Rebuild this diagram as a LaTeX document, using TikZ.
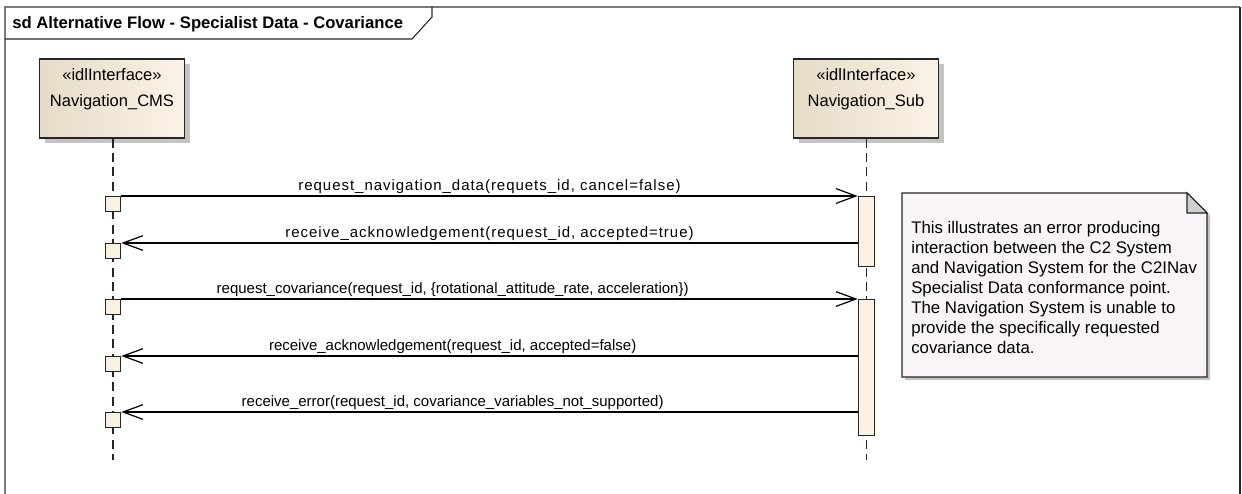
\documentclass[tikz,border=0pt]{standalone}
\usepackage{fontspec}
\setmainfont{Liberation Sans}
\usetikzlibrary{arrows.meta,shadows}
\definecolor{lifeL}{HTML}{E6DBC8}
\definecolor{lifeR}{HTML}{FBF3E6}
\definecolor{execfill}{HTML}{FBF1E3}
\definecolor{notefill}{HTML}{F8F4F8}
\definecolor{edge}{HTML}{262626}
\definecolor{framegray}{HTML}{7A7A7A}
\definecolor{shadowgray}{HTML}{C4C4C4}

\tikzset{
  lifebox/.style={draw=edge, line width=1.2pt, left color=lifeL, right color=lifeR,
    minimum width=108.75pt, minimum height=59.25pt, inner sep=0pt,
    drop shadow={shadow xshift=3.75pt, shadow yshift=-3.75pt, fill=shadowgray, opacity=1}},
  lifeline/.style={draw=edge, line width=1.1pt, dash pattern=on 6.75pt off 4pt},
  execsq/.style={draw=edge, line width=1.1pt, fill=execfill, minimum size=11.25pt,
    inner sep=0pt, anchor=north},
  actbar/.style={draw=edge, line width=1.1pt, fill=execfill, minimum width=12pt,
    inner sep=0pt, anchor=north},
  msg/.style={draw=black, line width=0.9pt,
    -{Straight Barb[length=15pt, width=11pt, line width=0.9pt]}},
  lbl/.style={anchor=base, yshift=4.5pt, inner sep=0pt, font=\fontsize{11.25}{13}\selectfont},
  widelbl/.style={lbl, font=\fontsize{11.25}{13}\selectfont\addfontfeatures{LetterSpace=6.5}},
  boxtext/.style={inner sep=0pt, font=\fontsize{12.4}{14}\selectfont}
}

\begin{document}
\begin{tikzpicture}[x=0.75pt, y=-0.75pt]
\useasboundingbox (0,0) rectangle (1242,493);

% diagram frame with its title tab
\draw[framegray, line width=1pt] (5,500) -- (5,7) -- (1240,7);
\draw[edge, line width=1pt] (1240,7) -- (1240,500);
\draw[edge, line width=0.8pt] (5,39) -- (412,39) -- (432,17) -- (432,7);
\node[anchor=west, inner sep=0pt, font=\fontsize{12.5}{14}\selectfont\bfseries] (title)
  at (12,24) {sd Alternative Flow - Specialist Data - Covariance};

% participants
\node[lifebox] (cms) at (112,98.5) {};
\node[lifebox] (sub) at (866,98.5) {};
\node[boxtext] (cmsst) at (112,75) {«idlInterface»};
\node[boxtext] (cmsname) at (112,102) {Navigation\_CMS};
\node[boxtext] (subst) at (866,75) {«idlInterface»};
\node[boxtext] (subname) at (866,102) {Navigation\_Sub};

% lifelines
\coordinate (cmsend) at (113,460);
\coordinate (subend) at (866.5,460);
\draw[lifeline] (cms.south -| cmsend) -- (cmsend);
\draw[lifeline] (sub.south -| subend) -- (subend);

% execution occurrences
\node[execsq] (sq1) at (113,196) {};
\node[execsq] (sq2) at (113,243) {};
\node[execsq] (sq3) at (113,299) {};
\node[execsq] (sq4) at (113,356) {};
\node[execsq] (sq5) at (113,412) {};
\node[actbar, minimum height=52.5pt] (act1) at (866.5,196) {};
\node[actbar, minimum height=102pt] (act2) at (866.5,299) {};

% messages
\draw[msg] (sq1.north east) -- (sq1.north east -| act1.west)
  node[widelbl, pos=0.5] {request\_navigation\_data(requets\_id, cancel=false)};
\draw[msg] (sq2.north east -| act1.west) -- (sq2.north east)
  node[widelbl, pos=0.5] {receive\_acknowledgement(request\_id, accepted=true)};
\draw[msg] (sq3.north east) -- (sq3.north east -| act2.west)
  node[lbl, pos=0.45] {request\_covariance(request\_id, \{rotational\_attitude\_rate, acceleration\})};
\draw[msg] (sq4.north east -| act2.west) -- (sq4.north east)
  node[lbl, pos=0.55] {receive\_acknowledgement(request\_id, accepted=false)};
\draw[msg] (sq5.north east -| act2.west) -- (sq5.north east)
  node[lbl, pos=0.55] {receive\_error(request\_id, covariance\_variables\_not\_supported)};

% note
\fill[shadowgray] (905,196) -- (1190,196) -- (1210,216) -- (1210,380) -- (905,380) -- cycle;
\draw[edge, line width=1pt, fill=notefill]
  (902,193) -- (1187,193) -- (1207,213) -- (1207,377) -- (902,377) -- cycle;
\draw[edge, line width=0.8pt, fill=shadowgray!80] (1187,193) -- (1187,213) -- (1207,213) -- cycle;
\node[anchor=north west, align=left, inner sep=0pt,
  font=\fontsize{12.6}{15}\selectfont] (note) at (911,221)
  {This illustrates an error producing\\
   interaction between the C2 System\\
   and Navigation System for the C2INav\\
   Specialist Data conformance point.\\
   The Navigation System is unable to\\
   provide the specifically requested\\
   covariance data.};
\end{tikzpicture}
\end{document}
